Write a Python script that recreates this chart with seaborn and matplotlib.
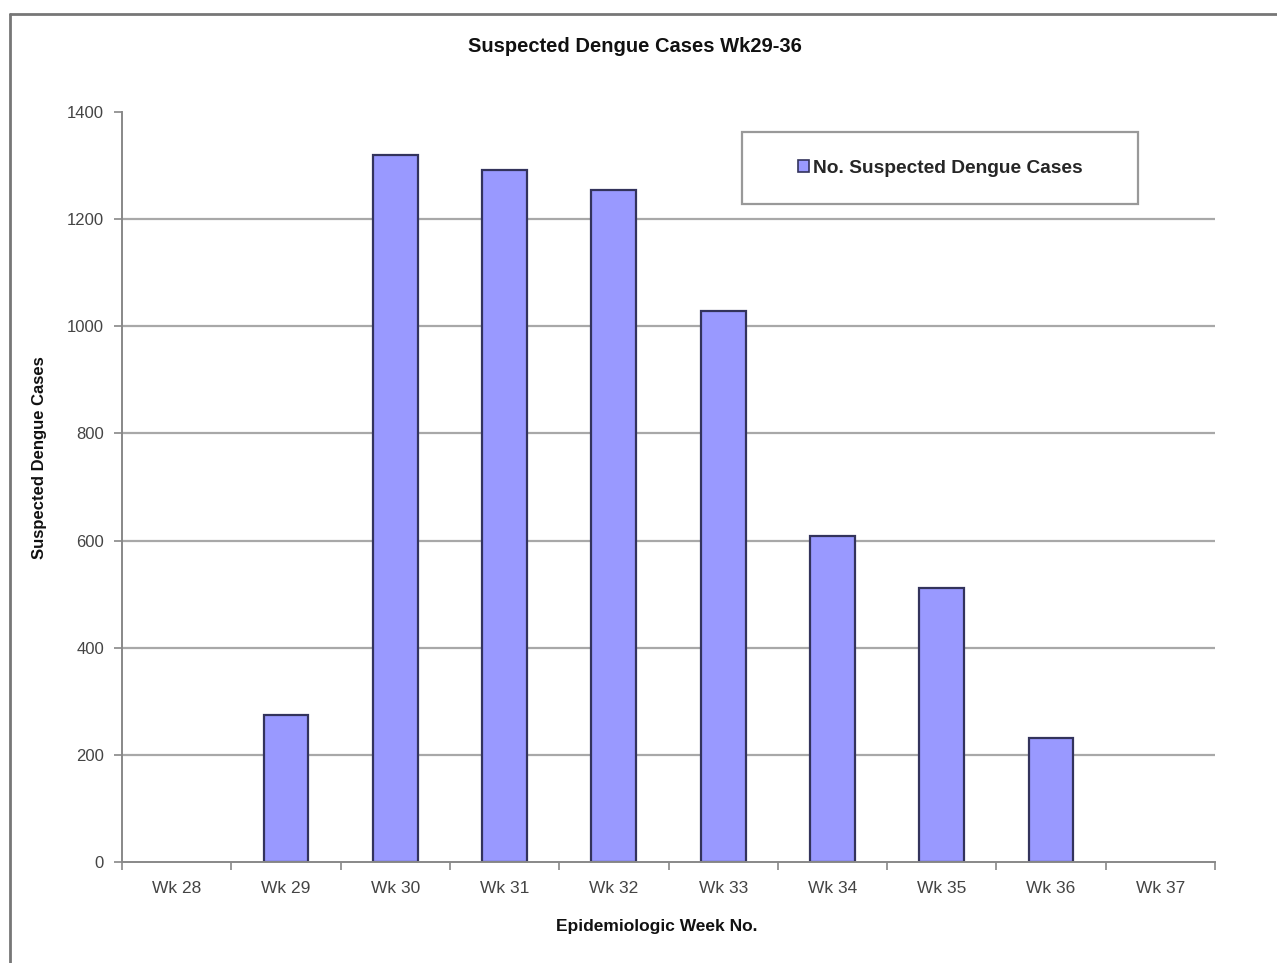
import matplotlib
matplotlib.use("Agg")
import matplotlib.pyplot as plt
import seaborn as sns
import pandas as pd
from matplotlib.patches import Rectangle
from matplotlib.lines import Line2D

weeks = ["Wk 28", "Wk 29", "Wk 30", "Wk 31", "Wk 32", "Wk 33", "Wk 34", "Wk 35", "Wk 36", "Wk 37"]
cases = [0, 274, 1320, 1292, 1254, 1028, 609, 511, 231, 0]
y_ticks = [0, 200, 400, 600, 800, 1000, 1200, 1400]
series_name = "No. Suspected Dengue Cases"

sns.set_theme(style="white")
plt.rcParams['font.family'] = ['Liberation Sans', 'DejaVu Sans']

df = pd.DataFrame({"week": weeks, "cases": cases})

fig = plt.figure(figsize=(12.77, 9.63), dpi=100)
ax = fig.add_axes([122/1277, 1-862/963, (1215-122)/1277, (862-112)/963])

sns.barplot(data=df, x="week", y="cases", ax=ax, color="#9999FF", saturation=1,
            width=0.41, edgecolor="#33335C", linewidth=1.6, label=series_name, legend=False)
for p in ax.patches:
    if p.get_height() == 0:
        p.set_visible(False)

ax.set_xlim(-0.5, len(weeks) - 0.5)
ax.set_ylim(0, 1400)
ax.set_yticks(y_ticks)
ax.set_yticklabels([str(v) for v in y_ticks], fontsize=12, color="#444444")
ax.set_xticks(range(len(weeks)))
ax.set_xticklabels(weeks, fontsize=12.5, color="#444444")
ax.set_xticks([i - 0.5 for i in range(len(weeks) + 1)], minor=True)
ax.tick_params(axis="x", which="major", length=0, pad=14)
ax.tick_params(axis="x", which="minor", length=6, width=1.2, color="#888888", direction="out", bottom=True)
ax.tick_params(axis="y", length=6, width=1.2, color="#888888", direction="out", left=True, pad=7)

for v in y_ticks[1:-1]:
    ax.axhline(v, color="#A8A8A8", linewidth=1.6, zorder=0)

for side in ["top", "right"]:
    ax.spines[side].set_visible(False)
for side in ["left", "bottom"]:
    ax.spines[side].set_color("#888888")
    ax.spines[side].set_linewidth(1.4)

ax.set_xlabel("Epidemiologic Week No.", fontsize=12.5, fontweight="bold", color="#111111")
ax.xaxis.set_label_coords((657-122)/1093, (862-927)/750)
ax.xaxis.label.set_va("center")
ax.set_ylabel("Suspected Dengue Cases", fontsize=12, fontweight="bold", color="#111111")
ax.yaxis.set_label_coords((40-122)/1093, (862-458)/750)
ax.yaxis.label.set_va("center")

fig.text(635/1277, 1-47/963, "Suspected Dengue Cases Wk29-36", ha="center", va="center",
         fontsize=14.5, fontweight="bold", color="#111111")

# legend box
x0 = (742-122)/1093; x1 = (1138-122)/1093
y0 = (862-204)/750; y1 = (862-132)/750
ax.add_patch(Rectangle((x0, y0), x1-x0, y1-y0, transform=ax.transAxes, fill=True,
                       facecolor="white", edgecolor="#999999", linewidth=1.6, zorder=5, clip_on=False))
handle = Rectangle((0, 0), 1, 1, facecolor="#9999FF", edgecolor="#33335C", linewidth=1.2)
ax.legend([handle], [series_name], loc="center", bbox_to_anchor=((x0+x1)/2, (y0+y1)/2),
          frameon=False, handlelength=0.6, handleheight=0.6, handletextpad=0.2,
          prop={"weight": "bold", "size": 13.8}).set_zorder(6)

fig.add_artist(Line2D([10/1277, 1.0], [1-14/963, 1-14/963], color="#777777", linewidth=2))
fig.add_artist(Line2D([10/1277, 10/1277], [0, 1-14/963], color="#777777", linewidth=2))

fig.savefig("out.png", dpi=100, facecolor="white")
